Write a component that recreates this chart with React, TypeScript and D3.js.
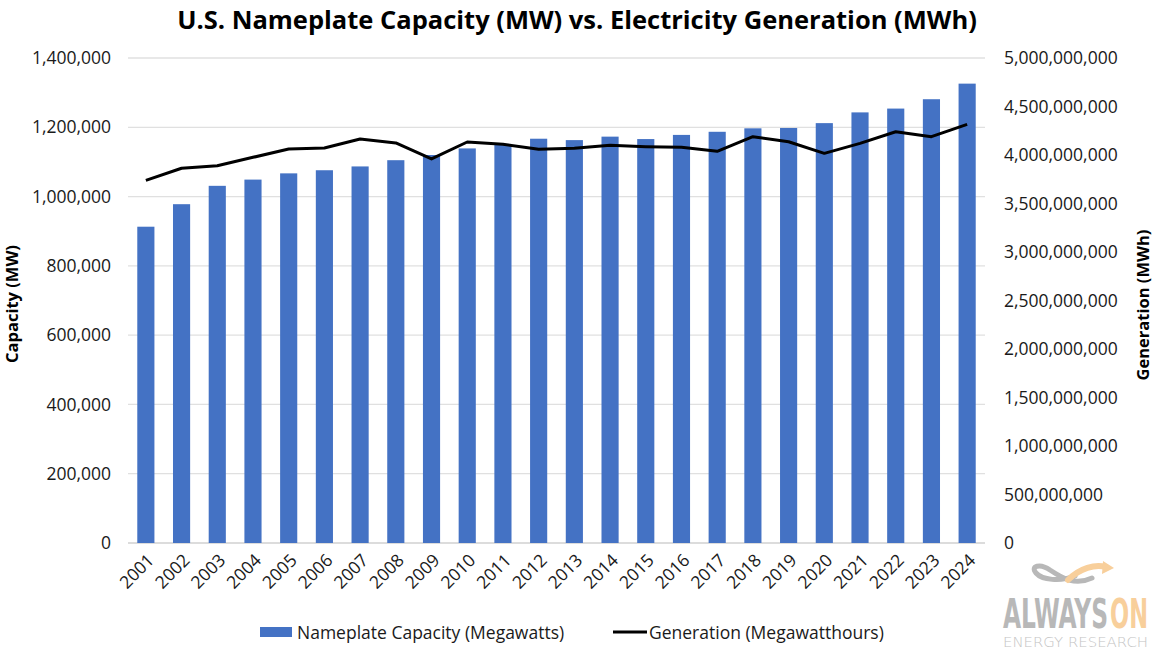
import * as d3 from "d3"

const years = [
    "2001", "2002", "2003", "2004", "2005", "2006", "2007", "2008", "2009", "2010", "2011", "2012",
    "2013", "2014", "2015", "2016", "2017", "2018", "2019", "2020", "2021", "2022", "2023", "2024",
]

// nameplate capacity, MW
const capacity = [
    913000, 978000, 1031000, 1049000, 1067000, 1076000, 1087000, 1105000, 1120000, 1139000, 1152000, 1167000,
    1163000, 1173000, 1166000, 1178000, 1187000, 1197000, 1198000, 1212000, 1243000, 1254000, 1281000, 1326000,
]

// generation, MWh
const generation = [
    3.739e9, 3.863e9, 3.890e9, 3.976e9, 4.062e9, 4.072e9, 4.165e9, 4.124e9, 3.959e9, 4.134e9, 4.110e9, 4.059e9,
    4.069e9, 4.100e9, 4.086e9, 4.079e9, 4.038e9, 4.189e9, 4.137e9, 4.017e9, 4.120e9, 4.240e9, 4.189e9, 4.316e9,
]

const leftTicks = [0, 200000, 400000, 600000, 800000, 1000000, 1200000, 1400000]
const rightTicks = [0, 5e8, 1e9, 1.5e9, 2e9, 2.5e9, 3e9, 3.5e9, 4e9, 4.5e9, 5e9]

const W = 1154
const H = 650
const font = "'Open Sans', sans-serif"
const fmt = d3.format(",")
const tickSize = 17.5

export default function App() {
    const left = 128
    const right = 985
    const top = 58
    const bottom = 543

    const x = d3.scaleBand<string>().domain(years).range([left, right]).paddingInner(0.52).paddingOuter(0.26)
    const yL = d3.scaleLinear().domain([0, 1400000]).range([bottom, top])
    const yR = d3.scaleLinear().domain([0, 5e9]).range([bottom, top])

    const line = d3.line<number>()
        .x((_, i) => (x(years[i]) ?? 0) + x.bandwidth() / 2)
        .y((d) => yR(d))

    return (
        <svg width={W} height={H} style={{ position: "absolute", left: 0, top: 0 }} fontFamily={font}>
            <rect width={W} height={H} fill="#fff" />
            <text x={577} y={29} textAnchor="middle" fontSize={25.5} fontWeight="bold" fill="#000">
                U.S. Nameplate Capacity (MW) vs. Electricity Generation (MWh)
            </text>

            {leftTicks.map((t) => (
                <g key={t}>
                    <line x1={left} x2={right} y1={yL(t)} y2={yL(t)} stroke={t === 0 ? "#d0d0d0" : "#e0e0e0"} strokeWidth={1.3} />
                    <text x={111} y={yL(t)} dy="0.35em" textAnchor="end" fontSize={tickSize} fill="#1a1a1a">
                        {fmt(t)}
                    </text>
                </g>
            ))}
            {rightTicks.map((t) => (
                <text key={t} x={1004} y={yR(t)} dy="0.35em" fontSize={tickSize} fill="#1a1a1a">
                    {fmt(t)}
                </text>
            ))}

            <text transform={`translate(18,304) rotate(-90)`} textAnchor="middle" fontSize={16.5} fontWeight="bold">
                Capacity (MW)
            </text>
            <text transform={`translate(1149,305) rotate(-90)`} textAnchor="middle" fontSize={16.5} fontWeight="bold">
                Generation (MWh)
            </text>

            {years.map((yr, i) => (
                <rect key={yr} x={x(yr)} y={yL(capacity[i])} width={x.bandwidth()} height={bottom - yL(capacity[i])} fill="#4472C4" />
            ))}

            <path d={line(generation) ?? ""} fill="none" stroke="#000" strokeWidth={3} strokeLinejoin="round" />

            {years.map((yr) => {
                const cx = (x(yr) ?? 0) + x.bandwidth() / 2 + 5
                return (
                    <text key={yr} transform={`translate(${cx},557) rotate(-45)`} textAnchor="end" dy="0.35em" fontSize={tickSize} fill="#1a1a1a">
                        {yr}
                    </text>
                )
            })}

            <rect x={260} y={627} width={32} height={10} fill="#4472C4" />
            <text x={297} y={639} fontSize={17.5} fill="#1a1a1a">Nameplate Capacity (Megawatts)</text>
            <line x1={613} x2={647} y1={632} y2={632} stroke="#000" strokeWidth={3} />
            <text x={649} y={639} fontSize={17.5} fill="#1a1a1a">Generation (Megawatthours)</text>

            {/* logo */}
            <g fontFamily="'DejaVu Sans Condensed', sans-serif" fontWeight="bold">
                <path d="M1092,578 C1075,586 1062,578 1050,570 C1040,563 1030,566 1036,573 C1042,580 1060,582 1075,576" fill="none" stroke="#b8b8b8" strokeWidth={5} strokeLinecap="round" />
                <path d="M1068,580 C1080,568 1095,564 1106,567" fill="none" stroke="#f8cf9b" strokeWidth={6} strokeLinecap="round" />
                <path d="M1103,561 L1114,568 L1102,574 Z" fill="#f8cf9b" />
                <text x={1003} y={628} fontSize={40} fill="#b8b8b8" textLength={105} lengthAdjust="spacingAndGlyphs">ALWAYS</text>
                <text x={1110} y={628} fontSize={40} fill="#f8cf9b" textLength={38} lengthAdjust="spacingAndGlyphs">ON</text>
            </g>
            <text x={1003} y={647} fontSize={14} fontWeight={200} fontFamily="'DejaVu Sans', sans-serif" fill="#c4c4c4" textLength={145} lengthAdjust="spacingAndGlyphs">
                ENERGY RESEARCH
            </text>
        </svg>
    )
}
